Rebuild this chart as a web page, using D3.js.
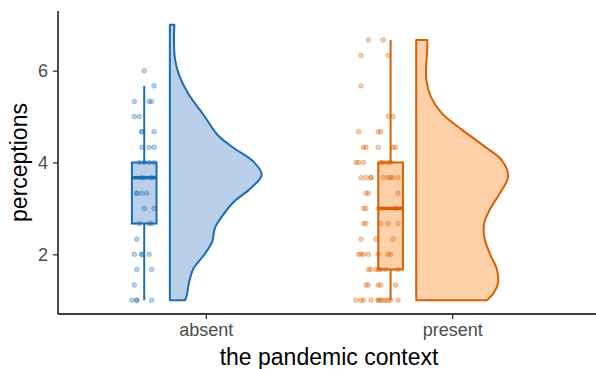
<!DOCTYPE html>
<html>
<head>
<meta charset="utf-8">
<script src="https://cdn.jsdelivr.net/npm/d3@7"></script>
<style>
  body { margin: 0; background: #fff; }
  svg { display: block; font-family: "Liberation Sans", Arial, sans-serif; }
</style>
</head>
<body>
<svg id="chart" width="596" height="369"></svg>
<script>
// groups
const categories = ["absent", "present"];
const strokeColors = ["#1b6db1", "#d95f02"];
const fillColors = ["#b9cfea", "#fdd0a8"];

// raw scores (jittered points), jitter in category units
const absentScores = [6, 5.67, 5.33, 5.33, 5.33, 5, 5, 4.67, 4.67, 4.67, 4.33, 4.33, 4.33,
  4, 4, 4, 4, 3.67, 3.67, 3.33, 3.33, 3.33, 3.33, 3, 3, 2.67, 2.67, 2.67, 2.33,
  2, 2, 2, 2, 1.67, 1.67, 1.33, 1, 1, 1, 1];
const absentJitter = [-0.25, -0.21, -0.29, -0.23, -0.22, -0.29, -0.27, -0.26, -0.26, -0.21, -0.26, -0.23, -0.21,
  -0.27, -0.25, -0.23, -0.21, -0.26, -0.22, -0.28, -0.28, -0.26, -0.24, -0.25, -0.21, -0.27, -0.23, -0.22, -0.28,
  -0.29, -0.26, -0.26, -0.23, -0.28, -0.22, -0.29, -0.30, -0.28, -0.28, -0.22];

const presentScores = [6.67, 6.67, 6.33, 6.33, 5.67, 5, 5, 4.67, 4.67, 4.67,
  4.33, 4.33, 4.33, 4.33, 4.33, 4, 4, 4, 4, 4, 4, 4,
  3.67, 3.67, 3.67, 3.67, 3.67, 3.67, 3.67, 3.67, 3.67, 3.33, 3.33, 3.33,
  3, 3, 3, 3, 2.67, 2.67, 2.67, 2.67, 2.67, 2.33, 2.33, 2.33,
  2, 2, 2, 2, 2, 2, 2, 1.67, 1.67, 1.67, 1.67, 1.67, 1.67, 1.67,
  1.33, 1.33, 1.33, 1.33, 1.33, 1, 1, 1, 1, 1, 1, 1, 1, 1, 1, 1, 1];
const presentJitter = [-0.34, -0.28, -0.37, -0.26, -0.37, -0.26, -0.24, -0.38, -0.30, -0.29,
  -0.36, -0.35, -0.30, -0.24, -0.23, -0.39, -0.38, -0.36, -0.29, -0.28, -0.26, -0.25,
  -0.37, -0.35, -0.33, -0.33, -0.28, -0.26, -0.25, -0.24, -0.22, -0.35, -0.34, -0.22,
  -0.36, -0.35, -0.30, -0.23, -0.36, -0.35, -0.29, -0.26, -0.22, -0.37, -0.31, -0.24,
  -0.38, -0.37, -0.36, -0.34, -0.30, -0.26, -0.25, -0.34, -0.33, -0.31, -0.30, -0.29, -0.27, -0.22,
  -0.35, -0.34, -0.30, -0.29, -0.23, -0.39, -0.37, -0.36, -0.33, -0.30, -0.30, -0.29, -0.28, -0.27, -0.26, -0.25, -0.22];

// boxplot summaries per group
const boxLower = [1, 1];
const boxQ1 = [2.67, 1.67];
const boxMedian = [3.67, 3];
const boxQ3 = [4, 4];
const boxUpper = [5.67, 6.67];

// half-violin outlines: score level and relative density (1 = widest)
const absentViolinY = [1, 1.11, 1.4, 1.7, 1.98, 2.27, 2.57, 2.86, 3.15, 3.44, 3.73, 4.02, 4.31, 4.6, 5.03, 5.47, 5.91, 6.27, 6.78, 7];
const absentViolinDensity = [0.165, 0.185, 0.21, 0.26, 0.37, 0.46, 0.49, 0.58, 0.7, 0.88, 1, 0.91, 0.7, 0.52, 0.37, 0.21, 0.1, 0.055, 0.045, 0.05];
const presentViolinY = [1, 1.15, 1.37, 1.66, 2.02, 2.38, 2.68, 2.97, 3.33, 3.69, 4.05, 4.34, 4.71, 5.07, 5.43, 5.8, 6.16, 6.45, 6.67];
const presentViolinDensity = [0.77, 0.84, 0.89, 0.88, 0.8, 0.74, 0.74, 0.8, 0.91, 1, 0.93, 0.75, 0.5, 0.28, 0.16, 0.11, 0.11, 0.12, 0.12];

const yTicks = [2, 4, 6];

const groups = categories.map((c, i) => ({
  name: c,
  i: i,
  points: (i === 0 ? absentScores : presentScores).map((v, k) => ({ v, j: (i === 0 ? absentJitter : presentJitter)[k] })),
  violin: (i === 0 ? absentViolinY : presentViolinY).map((v, k) => ({ v, d: (i === 0 ? absentViolinDensity : presentViolinDensity)[k] }))
}));

const svg = d3.select("#chart");
const marginLeft = 58, panelRight = 600, panelTop = 11, panelBottom = 314;

const x = d3.scalePoint().domain(categories).range([marginLeft, panelRight]).padding(0.6);
const step = x.step();
const y = d3.scaleLinear().domain([0.7, 7.3]).range([panelBottom, panelTop]);
const w = d3.scaleLinear().domain([0, 1]).range([0, 0.373 * step]);

const violinShift = -0.146, boxShift = -0.25, boxHalf = 0.05;

const g = svg.append("g");

// half violins
const area = d3.area()
  .y(d => y(d.v))
  .curve(d3.curveCatmullRom);

groups.forEach(grp => {
  const x0 = x(grp.name) + violinShift * step;
  g.append("path")
    .datum(grp.violin)
    .attr("d", area.x0(x0).x1(d => x0 + w(d.d)))
    .attr("fill", fillColors[grp.i])
    .attr("stroke", strokeColors[grp.i])
    .attr("stroke-width", 2)
    .attr("stroke-linejoin", "round");
});

// boxplots
groups.forEach(grp => {
  const cx = x(grp.name) + boxShift * step;
  const bw = boxHalf * step;
  const col = strokeColors[grp.i];
  const b = g.append("g");
  b.append("line").attr("x1", cx).attr("x2", cx)
    .attr("y1", y(boxUpper[grp.i])).attr("y2", y(boxQ3[grp.i]))
    .attr("stroke", col).attr("stroke-width", 2);
  b.append("line").attr("x1", cx).attr("x2", cx)
    .attr("y1", y(boxQ1[grp.i])).attr("y2", y(boxLower[grp.i]))
    .attr("stroke", col).attr("stroke-width", 2);
  b.append("rect")
    .attr("x", cx - bw).attr("width", 2 * bw)
    .attr("y", y(boxQ3[grp.i])).attr("height", y(boxQ1[grp.i]) - y(boxQ3[grp.i]))
    .attr("fill", fillColors[grp.i]).attr("stroke", col).attr("stroke-width", 2);
  b.append("line").attr("x1", cx - bw).attr("x2", cx + bw)
    .attr("y1", y(boxMedian[grp.i])).attr("y2", y(boxMedian[grp.i]))
    .attr("stroke", col).attr("stroke-width", 3.5);
});

// jittered points
groups.forEach(grp => {
  g.append("g").selectAll("circle")
    .data(grp.points)
    .join("circle")
    .attr("cx", d => x(grp.name) + d.j * step)
    .attr("cy", d => y(d.v))
    .attr("r", 2.3)
    .attr("fill", strokeColors[grp.i])
    .attr("fill-opacity", 0.3)
    .attr("stroke", strokeColors[grp.i])
    .attr("stroke-opacity", 0.45)
    .attr("stroke-width", 0.8);
});

// axes
const yAxis = svg.append("g")
  .attr("transform", `translate(${marginLeft},0)`)
  .call(d3.axisLeft(y).tickValues(yTicks).tickFormat(d3.format("d")).tickSize(5).tickPadding(5).tickSizeOuter(0));
yAxis.select(".domain").attr("d", `M0,${panelTop}V${panelBottom}`);

const xAxis = svg.append("g")
  .attr("transform", `translate(0,${panelBottom})`)
  .call(d3.axisBottom(x).tickSize(5).tickPadding(4).tickSizeOuter(0));
xAxis.select(".domain").attr("d", `M${marginLeft},0H${panelRight}`);

[yAxis, xAxis].forEach(ax => {
  ax.select(".domain").attr("stroke", "#000").attr("stroke-width", 1.4);
  ax.selectAll(".tick line").attr("stroke", "#333").attr("stroke-width", 1.3);
  ax.selectAll(".tick text").attr("fill", "#4d4d4d")
    .style("font-size", "18px").style("font-family", "'Liberation Sans', Arial, sans-serif");
});

// titles
svg.append("text")
  .attr("x", (marginLeft + panelRight) / 2).attr("y", 365)
  .attr("text-anchor", "middle")
  .style("font-size", "23px")
  .text("the pandemic context");

svg.append("text")
  .attr("transform", `translate(27,${(panelTop + panelBottom) / 2}) rotate(-90)`)
  .attr("text-anchor", "middle")
  .style("font-size", "23px")
  .text("perceptions");
</script>
</body>
</html>
